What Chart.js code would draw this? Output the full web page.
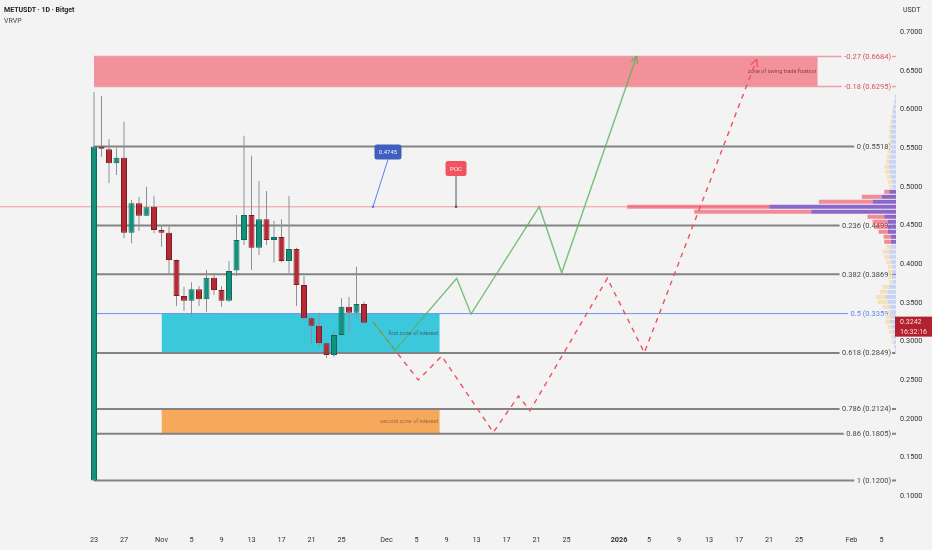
<!DOCTYPE html>
<html><head><meta charset="utf-8">
<script src="https://cdn.jsdelivr.net/npm/chart.js@4.4.1/dist/chart.umd.min.js"></script>
<style>
html,body{margin:0;padding:0;background:#f3f3f3;overflow:hidden}
#wrap{position:relative;width:932px;height:550px}
canvas{position:absolute;left:0;top:0}
.hdr{position:absolute;font-family:Roboto,"Liberation Sans",sans-serif;line-height:1;white-space:nowrap}
</style></head><body>
<div id="wrap">
<canvas id="c" width="932" height="550"></canvas>
<div class="hdr" style="left:4px;top:7px;font-size:7px;font-weight:bold;color:#222">METUSDT · 1D · Bitget</div>
<div class="hdr" style="left:4px;top:18px;font-size:7px;color:#444">VRVP</div>
<div class="hdr" style="left:903px;top:7px;font-size:7px;color:#333">USDT</div>
</div>
<script>
// ---- candles (day index 0 = Oct 23) ----
const opens  = [0.1200,0.5518,0.5483,0.5302,0.5375,0.4405,0.4785,0.4625,0.4740,0.4440,0.4405,0.4052,0.3586,0.3525,0.3673,0.3543,0.3823,0.3664,0.3525,0.3915,0.4310,0.4634,0.4211,0.4578,0.4310,0.4350,0.4040,0.4194,0.3728,0.3298,0.3202,0.2975,0.2823,0.3082,0.3448,0.3370,0.3483];
const highs  = [0.6225,0.6177,0.5613,0.5496,0.5840,0.4828,0.4870,0.5000,0.4883,0.4504,0.4504,0.4060,0.3706,0.3763,0.3716,0.3922,0.3880,0.3716,0.4039,0.4634,0.5660,0.5400,0.5073,0.4944,0.4560,0.4578,0.4880,0.4210,0.3845,0.3328,0.3370,0.2985,0.3134,0.3556,0.3577,0.3965,0.3513];
const lows   = [0.1200,0.5388,0.5044,0.5150,0.4332,0.4268,0.4430,0.4620,0.4397,0.4224,0.3880,0.3457,0.3396,0.3318,0.3457,0.3383,0.3600,0.3448,0.3510,0.3845,0.4246,0.3922,0.4116,0.4246,0.4020,0.4020,0.3888,0.3457,0.3280,0.2953,0.2930,0.2784,0.2800,0.3060,0.3112,0.3298,0.3224];
const closes = [0.5518,0.5490,0.5302,0.5375,0.4405,0.4785,0.4625,0.4733,0.4440,0.4405,0.4052,0.3586,0.3525,0.3673,0.3543,0.3823,0.3664,0.3525,0.3910,0.4310,0.4634,0.4211,0.4578,0.4310,0.4350,0.4040,0.4194,0.3728,0.3298,0.3202,0.2975,0.2823,0.3082,0.3448,0.3370,0.3483,0.3242];
const lastTimeText = '16:32:16';

// ---- axes ----
const xTickDays   = [0,4,9,13,17,21,25,29,33,39,43,47,51,55,59,63,70,74,78,82,86,90,94,101,105];
const xTickLabels = ['23','27','Nov','5','9','13','17','21','25','Dec','5','9','13','17','21','25','2026','5','9','13','17','21','25','Feb','5'];
const yTicks = [0.10,0.15,0.20,0.25,0.30,0.35,0.40,0.45,0.50,0.55,0.60,0.65,0.70];

// ---- fibonacci retracement ----
const fibLevels = [-0.27,-0.18,0,0.236,0.382,0.5,0.618,0.786,0.86,1];
const fibPrices = [0.6684,0.6295,0.5518,0.4499,0.3869,0.3359,0.2849,0.2124,0.1805,0.1200];
const fibStartDay = 0;

// ---- zones ----
const zoneNames     = ['zone of swing trade fixation','first zone of interest','second zone of interest'];
const zoneStartDays = [0,9,9];
const zoneEndDays   = [96.5,46.1,46.1];
const zoneTops      = [0.6684,0.3359,0.2124];
const zoneBottoms   = [0.6295,0.2849,0.1805];

// ---- projections ----
const greenPathDays   = [37.25,40.13,48.36,50.27,59.37,62.36,72.36];
const greenPathPrices = [0.3245,0.2887,0.3815,0.3353,0.4741,0.3887,0.6690];
const redPathDays     = [37.25,43.24,46.36,53.24,56.60,58.13,68.45,73.38,88.36];
const redPathPrices   = [0.3245,0.2500,0.2810,0.1824,0.2293,0.2103,0.3815,0.2853,0.6647];

// ---- visible range volume profile ----
const vpPrices  = [0.6163,0.6099,0.6034,0.5969,0.5905,0.5840,0.5775,0.5711,0.5646,0.5581,0.5516,0.5452,0.5387,0.5322,0.5258,0.5193,0.5128,0.5064,0.4999,0.4934,0.4869,0.4805,0.4740,0.4675,0.4611,0.4546,0.4481,0.4417,0.4352,0.4287,0.4222,0.4158,0.4093,0.4028,0.3964,0.3899,0.3834,0.3770,0.3705,0.3640,0.3575,0.3511,0.3446,0.3381,0.3317,0.3252,0.3187,0.3123,0.3058,0.2993,0.2929,0.2864];
const vpUpVol   = [1.2,1.7,2.7,3,3.3,4,4.7,5,5,5,5,5,6,6.7,7.3,6,5,4,3.3,6.7,14.3,23.3,126,84.3,11.7,8.3,8.3,8.3,5,5,5,7.3,6.7,5,3.3,4,4,3.3,6.7,8.3,10,8.3,6.7,5,5,6,4,3.3,2.7,1.7,1.7,1];
const vpDownVol = [0,0,0.3,1,1.7,1.7,2,1.7,2.3,1.7,2.5,3.3,3.3,3.3,4.4,4.7,4.3,4.3,3.4,5,19.7,53.4,141.3,116.4,16.6,15,13.4,9,7.3,6.7,5,6,5,5,5,4,3.3,3.4,6.6,7.7,10,10,6.6,3.3,5,4.7,4.3,3.4,2.3,2.3,0,0];
const vaHigh = 0.4934, vaLow = 0.4287;
const pocPrice = 0.4740;

// ---- callouts ----
const callouts = [
  {text:'0.4745', boxDay:39.2, boxPrice:0.5448, targetDay:37.2, targetPrice:0.4740, fill:'#3e5fc0', line:'#5b7ff0', w:27, h:15},
  {text:'POC', boxDay:48.27, boxPrice:0.5235, targetDay:48.27, targetPrice:0.4740, fill:'#f2545f', line:'#555555', w:21, h:15}
];

// ---- view / style ----
const xMin = -12.533, xMax = 106.933, yMin = 0.0664, yMax = 0.7414;
const BG = '#f3f3f3';
const FONT = 'Roboto, "Liberation Sans", sans-serif';
const GREEN = '#15917b', GREEN_B = '#0e6b5a', RED = '#b52a35', RED_B = '#7e1c24';
const zoneColors = ['rgba(242,80,95,0.6)','#3bc8dc','#f6a95b'];
const zoneTextColors = ['#8b3f4c','#3d6878','#9a6b45'];
const fibColors = fibLevels.map(l => l < 0 ? '#eaa0a6' : (l === 0.5 ? '#6f95ef' : '#838383'));
const fibLabelColors = fibLevels.map(l => l < 0 ? '#d8505c' : (l === 0.5 ? '#5b86ee' : '#474747'));
const fibWidths = fibLevels.map(l => l < 0 ? 1.5 : (l === 0.5 ? 1 : 2));
const inVA = p => p <= vaHigh + 1e-6 && p >= vaLow - 1e-6;

const datasets = [];
zoneNames.forEach((n, i) => datasets.push({
  type:'line', order:7, xAxisID:'x', yAxisID:'y',
  data:[{x:zoneStartDays[i], y:zoneTops[i]},{x:zoneEndDays[i], y:zoneTops[i]}],
  fill:{target:{value:zoneBottoms[i]}, above:zoneColors[i], below:zoneColors[i]},
  backgroundColor:zoneColors[i], borderWidth:0, pointRadius:0
}));
fibPrices.forEach((p, i) => datasets.push({
  type:'line', order:6, xAxisID:'x', yAxisID:'y',
  data:[{x:fibStartDay, y:p},{x:xMax, y:p}],
  borderColor:fibColors[i], borderWidth:fibWidths[i], pointRadius:0, fill:false
}));
datasets.push({
  type:'line', order:5, xAxisID:'x', yAxisID:'y',
  data:[{x:xMin, y:pocPrice},{x:xMax, y:pocPrice}],
  borderColor:'#f39a9c', borderWidth:1, pointRadius:0, fill:false
});
datasets.push({
  type:'line', order:4, xAxisID:'x', yAxisID:'y', arrow:true,
  data:greenPathDays.map((d, i) => ({x:d, y:greenPathPrices[i]})),
  borderColor:'rgba(88,178,92,0.8)', borderWidth:1.4, pointRadius:0, fill:false, tension:0
});
datasets.push({
  type:'line', order:4, xAxisID:'x', yAxisID:'y', arrow:true,
  data:redPathDays.map((d, i) => ({x:d, y:redPathPrices[i]})),
  borderColor:'#f0505e', borderWidth:1.4, borderDash:[5,5], pointRadius:0, fill:false, tension:0
});
datasets.push({
  type:'bar', order:3, xAxisID:'x', yAxisID:'y', grouped:false, barThickness:1, inflateAmount:0,
  data:highs.map((h, i) => ({x:i, y:[lows[i], h]})),
  backgroundColor:'#8e9096'
});
datasets.push({
  type:'bar', order:2, xAxisID:'x', yAxisID:'y', grouped:false, barThickness:6, inflateAmount:0,
  borderSkipped:false, borderWidth:1,
  data:opens.map((o, i) => ({x:i, y:[o, closes[i]]})),
  backgroundColor:opens.map((o, i) => closes[i] >= o ? GREEN : RED),
  borderColor:opens.map((o, i) => closes[i] >= o ? GREEN_B : RED_B)
});
datasets.push({
  type:'bar', order:1, vp:true, indexAxis:'y', xAxisID:'xv', yAxisID:'y', grouped:false, barThickness:4, inflateAmount:0,
  data:vpPrices.map((p, i) => ({x:[0, vpUpVol[i]], y:p})),
  backgroundColor:vpPrices.map(p => inVA(p) ? '#8a67c9' : '#c7d4f4')
});
datasets.push({
  type:'bar', order:1, vp:true, indexAxis:'y', xAxisID:'xv', yAxisID:'y', grouped:false, barThickness:4, inflateAmount:0,
  data:vpPrices.map((p, i) => ({x:[vpUpVol[i], vpUpVol[i] + vpDownVol[i]], y:p})),
  backgroundColor:vpPrices.map(p => inVA(p) ? 'rgba(242,70,85,0.6)' : '#f5e1bd')
});
const vpMax = Math.max(...vpUpVol.map((u, i) => u + vpDownVol[i]));

function drawLevelLabels(chart) {
  const {ctx, chartArea, scales:{x, y}} = chart;
  ctx.save();
  ctx.font = '7.5px ' + FONT;
  ctx.textBaseline = 'middle'; ctx.textAlign = 'right';
  fibLevels.forEach((l, i) => {
    const py = y.getPixelForValue(fibPrices[i]);
    const t = `${l} (${fibPrices[i].toFixed(4)})`;
    const w = ctx.measureText(t).width;
    const rx = chartArea.right - 5;
    ctx.fillStyle = BG; ctx.fillRect(rx - w - 2.5, py - 4.5, w + 3.5, 9);
    ctx.fillStyle = fibLabelColors[i]; ctx.fillText(t, rx, py + 0.5);
  });
  ctx.font = '5.6px ' + FONT;
  zoneNames.forEach((n, i) => {
    const px = x.getPixelForValue(zoneEndDays[i]) - 1.5;
    const py = y.getPixelForValue((zoneTops[i] + zoneBottoms[i]) / 2);
    ctx.fillStyle = zoneTextColors[i]; ctx.fillText(n, px, py + 0.5);
  });
  ctx.restore();
}

function rrect(ctx, x, y, w, h, r) {
  ctx.beginPath();
  ctx.moveTo(x + r, y); ctx.lineTo(x + w - r, y); ctx.quadraticCurveTo(x + w, y, x + w, y + r);
  ctx.lineTo(x + w, y + h - r); ctx.quadraticCurveTo(x + w, y + h, x + w - r, y + h);
  ctx.lineTo(x + r, y + h); ctx.quadraticCurveTo(x, y + h, x, y + h - r);
  ctx.lineTo(x, y + r); ctx.quadraticCurveTo(x, y, x + r, y); ctx.closePath();
}

const tvPlugin = {
  id:'tv',
  beforeDraw(chart) {
    const c = chart.ctx; c.save(); c.fillStyle = BG; c.fillRect(0, 0, chart.width, chart.height); c.restore();
    chart.$labelsDone = false;
  },
  beforeDatasetDraw(chart, args) {
    const ds = chart.data.datasets[args.index];
    if (ds.vp && !chart.$labelsDone) { drawLevelLabels(chart); chart.$labelsDone = true; }
  },
  afterDatasetsDraw(chart) {
    const {ctx, scales:{x, y}} = chart;
    if (!chart.$labelsDone) { drawLevelLabels(chart); chart.$labelsDone = true; }
    ctx.save();
    chart.data.datasets.forEach((ds, i) => {
      if (!ds.arrow) return;
      const pts = chart.getDatasetMeta(i).data;
      const a = pts[pts.length - 2], b = pts[pts.length - 1];
      const ang = Math.atan2(b.y - a.y, b.x - a.x);
      ctx.strokeStyle = ds.borderColor; ctx.lineWidth = 1.2; ctx.setLineDash([]);
      ctx.beginPath();
      [0.45, -0.45].forEach(da => {
        ctx.moveTo(b.x, b.y);
        ctx.lineTo(b.x - 8 * Math.cos(ang + da), b.y - 8 * Math.sin(ang + da));
      });
      ctx.stroke();
    });
    callouts.forEach(c => {
      const bx = x.getPixelForValue(c.boxDay), by = y.getPixelForValue(c.boxPrice);
      const tx = x.getPixelForValue(c.targetDay), ty = y.getPixelForValue(c.targetPrice);
      ctx.strokeStyle = c.line; ctx.lineWidth = 1;
      ctx.beginPath(); ctx.moveTo(bx, by + c.h / 2); ctx.lineTo(tx, ty); ctx.stroke();
      ctx.fillStyle = c.line; ctx.beginPath(); ctx.arc(tx, ty, 1.3, 0, Math.PI * 2); ctx.fill();
      ctx.fillStyle = c.fill; rrect(ctx, bx - c.w / 2, by - c.h / 2, c.w, c.h, 2.5); ctx.fill();
      ctx.fillStyle = '#f4f0f8'; ctx.font = '6px ' + FONT; ctx.textAlign = 'center'; ctx.textBaseline = 'middle';
      ctx.fillText(c.text, bx, by + 0.5);
    });
    ctx.restore();
  },
  afterDraw(chart) {
    const {ctx, chartArea, scales:{y}} = chart;
    const last = closes[closes.length - 1];
    const py = y.getPixelForValue(last);
    ctx.save();
    ctx.fillStyle = '#b2212e';
    ctx.fillRect(chartArea.right - 1, py - 6, chart.width - chartArea.right + 1, 20);
    ctx.fillStyle = '#fbdcdc'; ctx.font = '7px ' + FONT; ctx.textAlign = 'left'; ctx.textBaseline = 'middle';
    ctx.fillText(last.toFixed(4), chartArea.right + 4, py);
    ctx.fillText(lastTimeText, chartArea.right + 4, py + 9.5);
    ctx.restore();
  }
};

new Chart(document.getElementById('c'), {
  type:'bar',
  data:{datasets},
  plugins:[tvPlugin],
  options:{
    responsive:false, animation:false, events:[],
    layout:{padding:0},
    plugins:{legend:{display:false}, tooltip:{enabled:false}},
    scales:{
      x:{
        type:'linear', axis:'x', position:'bottom', min:xMin, max:xMax, offset:false, beginAtZero:false,
        grid:{display:false, offset:false, drawTicks:false}, border:{display:false},
        afterBuildTicks:s => { s.ticks = xTickDays.map(v => ({value:v})); },
        afterFit:s => { s.height = 28; s.paddingLeft = 0; s.paddingRight = 0; },
        ticks:{
          autoSkip:false, maxRotation:0, padding:14, color:'#333',
          font:ctx => ({family:FONT, size:7.3, weight:(ctx.tick && ctx.tick.value === 70) ? 'bold' : 'normal'}),
          callback:v => { const i = xTickDays.indexOf(v); return i >= 0 ? xTickLabels[i] : ''; }
        }
      },
      y:{
        type:'linear', axis:'y', position:'right', min:yMin, max:yMax, offset:false, beginAtZero:false,
        grid:{display:false, offset:false, drawTicks:false}, border:{display:false},
        afterBuildTicks:s => { s.ticks = yTicks.map(v => ({value:v})); },
        afterFit:s => { s.width = 36; s.paddingTop = 0; s.paddingBottom = 0; },
        ticks:{autoSkip:false, padding:4, color:'#333', font:{family:FONT, size:7.3}, callback:v => Number(v).toFixed(4)}
      },
      xv:{
        type:'linear', axis:'x', display:false, reverse:true, min:0, max:vpMax / 0.3, offset:false, beginAtZero:true,
        grid:{display:false}
      }
    }
  }
});
</script>
</body></html>
